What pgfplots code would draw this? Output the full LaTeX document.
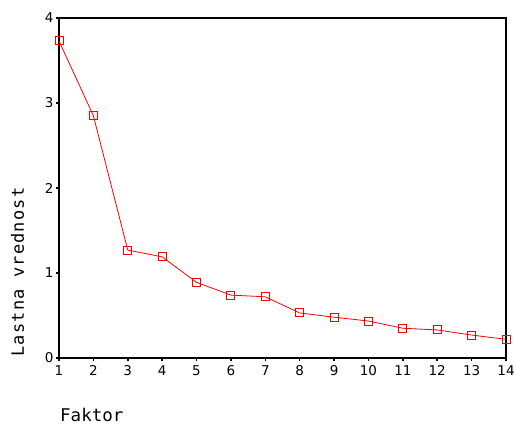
\documentclass[border=0pt]{standalone}
\usepackage{fontspec}
\setmainfont{DejaVu Sans}
\newfontfamily\mono{DejaVu Sans Mono}
\newfontfamily\monosp[LetterSpace=7]{DejaVu Sans Mono}
\usepackage{pgfplots}
\pgfplotsset{compat=1.18}

\begin{document}
\begin{tikzpicture}[x=1pt,y=1pt]
\useasboundingbox (0,0) rectangle (514,425);
\begin{axis}[
    at={(59pt,67pt)}, anchor=south west,
    scale only axis,
    width=447pt, height=340pt,
    xmin=1, xmax=14,
    ymin=0, ymax=4,
    xtick={1,...,14},
    ytick={0,1,2,3,4},
    tick align=outside,
    major tick length=3pt,
    tick style={black, line width=1.6pt},
    axis line style={black, line width=1.2pt},
    tick pos=left,
    /pgf/number format/assume math mode=true,
    ticklabel style={font=\fontsize{13.5}{15}\selectfont},
    xticklabel style={yshift=-1pt},
    yticklabel style={xshift=1pt},
    clip=false,
]
\addplot[red, line width=0.8pt, mark=square, mark size=4pt,
    mark options={red, solid, line width=0.9pt}] coordinates {
    (1,3.73)(2,2.85)(3,1.27)(4,1.19)(5,0.89)(6,0.74)(7,0.72)
    (8,0.53)(9,0.48)(10,0.435)(11,0.35)(12,0.33)(13,0.27)(14,0.22)
};
\end{axis}
\node[anchor=base west, inner sep=0pt, font=\mono\fontsize{17.5}{20}\selectfont] at (60,3) {Faktor};
\node[anchor=base, rotate=90, inner sep=0pt, font=\monosp\fontsize{17}{20}\selectfont] at (24,153) {Lastna vrednost};
\end{tikzpicture}
\end{document}
